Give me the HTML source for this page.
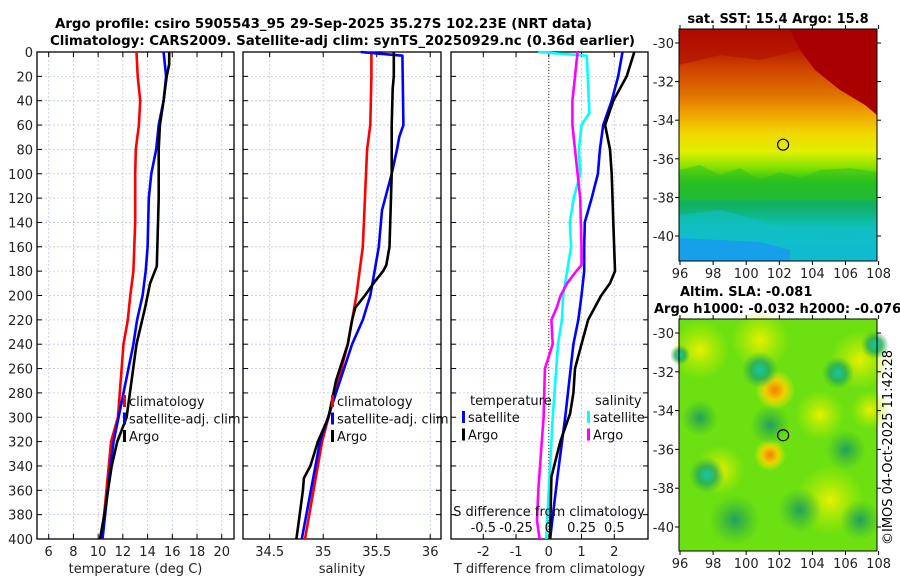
<!DOCTYPE html>
<html><head><meta charset="utf-8">
<style>
html,body{margin:0;padding:0;background:#fff;}
svg{display:block;font-family:"DejaVu Sans","Liberation Sans",sans-serif;}
</style></head>
<body>
<svg id="fig" width="900" height="580" viewBox="0 0 900 580" xmlns="http://www.w3.org/2000/svg">
<defs>
<linearGradient id="sstg" x1="0" y1="0" x2="0" y2="1">
<stop offset="0" stop-color="#a80000"/>
<stop offset="0.08" stop-color="#b81800"/>
<stop offset="0.18" stop-color="#d04800"/>
<stop offset="0.28" stop-color="#e07000"/>
<stop offset="0.36" stop-color="#f0a000"/>
<stop offset="0.45" stop-color="#f0d800"/>
<stop offset="0.53" stop-color="#e0f000"/>
<stop offset="0.60" stop-color="#80e000"/>
<stop offset="0.66" stop-color="#20c020"/>
<stop offset="0.76" stop-color="#10b060"/>
<stop offset="0.86" stop-color="#10c0c0"/>
<stop offset="1" stop-color="#10b0e0"/>
</linearGradient>
<radialGradient id="bteal"><stop offset="0" stop-color="#10c8b0"/><stop offset="0.5" stop-color="#20a860" stop-opacity="0.8"/><stop offset="1" stop-color="#30b040" stop-opacity="0"/></radialGradient>
<radialGradient id="bdark"><stop offset="0" stop-color="#20a060"/><stop offset="1" stop-color="#30b040" stop-opacity="0"/></radialGradient>
<radialGradient id="byel"><stop offset="0" stop-color="#e8f000"/><stop offset="1" stop-color="#c0f000" stop-opacity="0"/></radialGradient>
<radialGradient id="bora"><stop offset="0" stop-color="#f08000"/><stop offset="0.5" stop-color="#f0d000"/><stop offset="1" stop-color="#e0f000" stop-opacity="0"/></radialGradient>
</defs>
<g id="title" font-weight="bold" font-size="13">
<text x="55" y="28" textLength="537" lengthAdjust="spacingAndGlyphs">Argo profile: csiro 5905543_95 29-Sep-2025 35.27S 102.23E (NRT data)</text>
<text x="50" y="45" textLength="585" lengthAdjust="spacingAndGlyphs">Climatology: CARS2009. Satellite-adj clim: synTS_20250929.nc (0.36d earlier)</text>
</g>
<g id="p1"></g>
<g id="p2"></g>
<g id="p3"></g>
<g id="m1"></g>
<g id="m2"></g>
<text x="892" y="545" transform="rotate(-90 892 545)" font-size="13">©IMOS 04-Oct-2025 11:42:28</text>
</svg>
<script>
// ---- data ----
const depthTicks = [0,20,40,60,80,100,120,140,160,180,200,220,240,260,280,300,320,340,360,380,400];
const tempTicks = [6,8,10,12,14,16,18,20];
const salTicks = [34.5,35,35.5,36];
const salTickLabels = ["34.5","35","35.5","36"];
const tdiffTicks = [-2,-1,0,1,2];
const sdiffTicks = [-0.5,-0.25,0,0.25,0.5];
const sdiffTickLabels = ["-0.5","-0.25","0","0.25","0.5"];

const climTD = [0,20,40,60,80,100,140,180,200,220,240,300,320,400];
const climT  = [13.1,13.2,13.4,13.3,13.05,13.0,13.0,12.85,12.6,12.4,12.05,11.6,11.05,10.3];
const satTD  = [0,20,40,60,80,100,120,160,180,200,220,240,320,340,400];
const satT   = [15.3,15.5,15.3,14.9,14.7,14.3,14.1,14.0,13.85,13.6,13.15,12.85,11.25,11.0,10.35];
const argoTD = [0,10,20,40,60,80,120,176,190,210,240,300,320,340,360,380,400];
const argoT  = [15.75,15.75,15.55,15.3,15.0,14.9,14.9,14.75,14.2,13.8,13.1,12.3,11.55,11.1,10.8,10.5,10.15];

const climSD = [0,20,60,80,100,140,160,180,200,220,240,320,400];
const climS  = [35.45,35.45,35.44,35.41,35.40,35.38,35.37,35.34,35.31,35.27,35.23,34.99,34.83];
const satSD  = [0,3,60,70,80,100,130,160,180,200,220,240,320,400];
const satS   = [35.35,35.74,35.75,35.71,35.69,35.64,35.55,35.52,35.48,35.44,35.37,35.27,34.97,34.80];
const argoSD = [0,20,30,60,100,160,175,180,190,200,210,220,240,270,300,320,340,350,360,380,400];
const argoS  = [35.66,35.66,35.65,35.64,35.64,35.62,35.59,35.56,35.47,35.39,35.30,35.27,35.23,35.12,35.05,34.95,34.88,34.82,34.81,34.78,34.75];

const dSatSD = [0,3,50,60,80,100,120,140,160,180,200,220,240,300,400];
const dSatS  = [-0.08,0.29,0.31,0.25,0.23,0.24,0.19,0.16,0.17,0.14,0.11,0.10,0.07,0.03,-0.02];
const dArgoSD = [0,20,40,60,80,100,120,160,175,180,190,200,210,220,240,260,300,330,360,385,400];
const dArgoS  = [0.22,0.20,0.18,0.18,0.20,0.22,0.24,0.25,0.25,0.21,0.14,0.09,0.06,0.02,0.03,-0.03,-0.04,-0.06,-0.08,-0.09,-0.07];
const dSatTD = [0,20,40,60,80,100,120,140,160,180,200,220,240,300,350,400];
const dSatT  = [2.25,2.12,1.92,1.66,1.56,1.5,1.31,1.1,1.08,1.08,1.0,0.9,0.75,0.5,0.26,0.04];
const dArgoTD = [0,20,40,60,80,100,140,180,190,200,220,240,260,280,297,320,349,370,400];
const dArgoT  = [2.61,2.38,1.97,1.72,1.87,1.92,1.97,2.02,1.87,1.6,1.2,1.0,0.8,0.75,0.65,0.35,0.08,0.06,0.04];

const lonTicks = [96,98,100,102,104,106,108];
const latTicks = [-30,-32,-34,-36,-38,-40];
const argoLon = [102.23];
const argoLat = [-35.27];

// ---- helpers ----
const NS="http://www.w3.org/2000/svg";
function mk(tag, attrs, parent){const e=document.createElementNS(NS,tag);for(const k in attrs)e.setAttribute(k,attrs[k]);parent.appendChild(e);return e;}
const Y0=52, Y1=539;
const yD = d => Y0 + d*(Y1-Y0)/400;

function panel(g, x0, x1, xs, ticks, labels, xlabel, showY){
  ticks.forEach(t=>{const x=xs(t);
    const l=mk('line',{x1:x,x2:x,y1:Y0,y2:Y1,stroke:'#c0c8e8','stroke-width':0.8,'stroke-dasharray':'2,2'},g);
    
    
  });
  depthTicks.forEach(d=>{const y=yD(d);
    const l=mk('line',{x1:x0,x2:x1,y1:y,y2:y,stroke:'#c0c8e8','stroke-width':0.8,'stroke-dasharray':'2,2'},g);
    
    
    mk('line',{x1:x0,x2:x0+5,y1:y,y2:y,stroke:'#000'},g);
    mk('line',{x1:x1-5,x2:x1,y1:y,y2:y,stroke:'#000'},g);
    if(showY){const t=mk('text',{x:x0-4,y:y+5,'text-anchor':'end','font-size':13,fill:'#222'},g);t.textContent=d;
      
      }
  });
  ticks.forEach((t,i)=>{const x=xs(t);
    mk('line',{x1:x,x2:x,y1:Y1,y2:Y1-5,stroke:'#000'},g);
    mk('line',{x1:x,x2:x,y1:Y0,y2:Y0+5,stroke:'#000'},g);
    if(labels){const tx=mk('text',{x:x,y:556,'text-anchor':'middle','font-size':13,fill:'#222'},g);tx.textContent=labels[i];
      
      }
  });
  const b=mk('rect',{x:x0,y:Y0,width:x1-x0,height:Y1-Y0,fill:'none',stroke:'#000','stroke-width':1.3},g);
  
  
  const xl=mk('text',{x:(x0+x1)/2,y:573,'text-anchor':'middle','font-size':13,fill:'#222'},g);xl.textContent=xlabel;
  
  
}
function series(g, xs, depths, vals, color, name){
  const pts=depths.map((d,i)=>xs(vals[i]).toFixed(1)+','+yD(d).toFixed(1)).join(' ');
  const p=mk('polyline',{points:pts,fill:'none',stroke:color,'stroke-width':2.6,'stroke-linejoin':'round'},g);
  
  
}
function legend(g, x, y, items){
  items.forEach((it,i)=>{const yy=y+i*17.5;
    mk('rect',{x:x,y:yy-11,width:3,height:12,fill:it[1]},g);
    const t=mk('text',{x:x+6,y:yy,'font-size':13,fill:'#111'},g);t.textContent=it[0];
    
    
  });
}

// panel 1
const g1=document.getElementById('p1');
const xT = t => 48.7 + (t-6)*12.36;
panel(g1,37,234,xT,tempTicks,tempTicks.map(String),'temperature (deg C)',true);
series(g1,xT,climTD,climT,'#f00','climatology-temp-line');
series(g1,xT,satTD,satT,'#00f','satellite-temp-line');
series(g1,xT,argoTD,argoT,'#000','argo-temp-line');
legend(g1,123,406,[['climatology','#f00'],['satellite-adj. clim','#00f'],['Argo','#000']]);

// panel 2
const g2=document.getElementById('p2');
const xS = s => 269.7 + (s-34.5)*107;
panel(g2,243,441,xS,salTicks,salTickLabels,'salinity',false);
series(g2,xS,climSD,climS,'#f00','climatology-sal-line');
series(g2,xS,satSD,satS,'#00f','satellite-sal-line');
series(g2,xS,argoSD,argoS,'#000','argo-sal-line');
legend(g2,331,406,[['climatology','#f00'],['satellite-adj. clim','#00f'],['Argo','#000']]);

// panel 3
const g3=document.getElementById('p3');
const xdT = v => 548.8 + v*32.75;
const xdS = v => 548.8 + v*131;
panel(g3,451,648,xdT,tdiffTicks,tdiffTicks.map(String),'T difference from climatology',false);
const zl=mk('line',{x1:xdT(0),x2:xdT(0),y1:Y0,y2:Y1,stroke:'#553300','stroke-width':1,'stroke-dasharray':'1,2'},g3);


series(g3,xdS,dSatSD,dSatS,'#0ff','satellite-sal-diff-line');
series(g3,xdS,dArgoSD,dArgoS,'#f0f','argo-sal-diff-line');
series(g3,xdT,dSatTD,dSatT,'#00f','satellite-temp-diff-line');
series(g3,xdT,dArgoTD,dArgoT,'#000','argo-temp-diff-line');
sdiffTicks.forEach((t,i)=>{const tx=mk('text',{x:xdS(t),y:532,'text-anchor':'middle','font-size':13,fill:'#111'},g3);tx.textContent=sdiffTickLabels[i];
  
  });
const st=mk('text',{x:549,y:516,'text-anchor':'middle','font-size':13,fill:'#111'},g3);st.textContent='S difference from climatology';


const lt=mk('text',{x:470,y:405,'font-size':13,fill:'#111'},g3);lt.textContent='temperature';


const ls=mk('text',{x:595,y:405,'font-size':13,fill:'#111'},g3);ls.textContent='salinity';


legend(g3,462,422,[['satellite','#00f'],['Argo','#000']]);
legend(g3,587,422,[['satellite','#0ff'],['Argo','#f0f']]);

// maps
function mapAxes(g, x0,x1,y0,y1, lat30y, lat40y){
  const xl = lon => 680 + (lon-96)*16.55;
  const yl = lat => lat30y + (-30-lat)*(lat40y-lat30y)/10;
  mk('rect',{x:x0,y:y0,width:x1-x0,height:y1-y0,fill:'none',stroke:'#000','stroke-width':1},g);
  lonTicks.forEach(l=>{const x=xl(l);
    mk('line',{x1:x,x2:x,y1:y1,y2:y1+4,stroke:'#000'},g);
    mk('line',{x1:x,x2:x,y1:y0,y2:y0-4,stroke:'#000'},g);
    const t=mk('text',{x:x,y:y1+17,'text-anchor':'middle','font-size':13,fill:'#222'},g);t.textContent=l;
    
    });
  latTicks.forEach(l=>{const y=yl(l);
    mk('line',{x1:x0,x2:x0-4,y1:y,y2:y,stroke:'#000'},g);
    mk('line',{x1:x1,x2:x1+4,y1:y,y2:y,stroke:'#000'},g);
    const t=mk('text',{x:x0-5,y:y+5,'text-anchor':'end','font-size':13,fill:'#222'},g);t.textContent=l;
    
    });
  const c=mk('circle',{cx:xl(argoLon[0]),cy:yl(argoLat[0]),r:5.5,fill:'none',stroke:'#000','stroke-width':1.2},g);
  
  
}
const m1=document.getElementById('m1');
let r=mk('rect',{x:679,y:29,width:198,height:232,fill:'url(#sstg)'},m1);


mk('polygon',{points:'790,29 877,29 877,115 865,105 840,90 815,70 800,50',fill:'#a80000'},m1);
mk('polygon',{points:'679,29 790,29 800,50 760,60 720,55 679,65',fill:'#b01000','opacity':0.6},m1);
mk('polygon',{points:'679,170 700,165 720,175 740,168 760,180 780,172 800,178 820,170 850,168 877,172 877,200 679,200',fill:'#30c020','opacity':0.5},m1);
mk('polygon',{points:'679,215 720,210 760,220 790,230 830,240 877,235 877,261 679,261',fill:'#10c0c8','opacity':0.6},m1);
mk('polygon',{points:'679,238 760,242 790,250 790,261 679,261',fill:'#1898f0','opacity':0.8},m1);
mapAxes(m1,679,877,29,261,43,236);
let tt=mk('text',{x:778,y:23,'text-anchor':'middle','font-size':13,'font-weight':'bold'},m1);tt.textContent='sat. SST: 15.4 Argo: 15.8';



const m2=document.getElementById('m2');
r=mk('rect',{x:679,y:319,width:198,height:232,fill:'#6ce010'},m2);


[[700,350,30,'byel'],[760,340,30,'byel'],[860,360,30,'byel'],[775,390,20,'bora'],[820,415,25,'byel'],[770,455,16,'bora'],[830,500,35,'byel'],[720,470,25,'byel'],[870,410,20,'byel'],
 [760,370,18,'bteal'],[838,373,16,'bteal'],[875,345,14,'bteal'],[680,355,10,'bteal'],[700,418,18,'bdark'],[770,425,20,'bdark'],[846,450,20,'bdark'],[707,475,18,'bteal'],[735,520,25,'bdark'],[800,510,22,'bdark'],[860,520,20,'bdark']]
 .forEach(b=>mk('circle',{cx:b[0],cy:b[1],r:b[2],fill:'url(#'+b[3]+')'},m2));
mapAxes(m2,679,877,319,551,333,527);
tt=mk('text',{x:680,y:296,'font-size':13,'font-weight':'bold'},m2);tt.textContent='Altim. SLA: -0.081';


tt=mk('text',{x:654,y:313,'font-size':13,'font-weight':'bold'},m2);tt.textContent='Argo h1000: -0.032 h2000: -0.076';


</script>
</body></html>
